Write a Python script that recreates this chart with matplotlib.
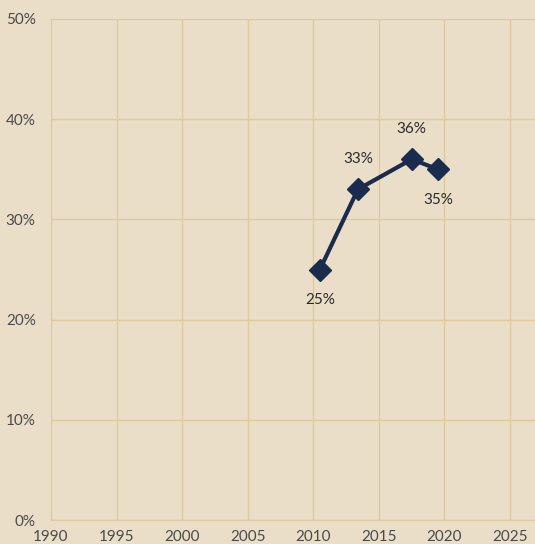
import matplotlib
matplotlib.use("Agg")
import matplotlib.pyplot as plt
from matplotlib.ticker import FuncFormatter

years = [2010.5, 2013.4, 2017.5, 2019.5]
share = [25, 33, 36, 35]
labels = ["25%", "33%", "36%", "35%"]
label_offsets = [(0, -22), (0, 22), (0, 22), (0, -22)]

xticks = [1990, 1995, 2000, 2005, 2010, 2015, 2020, 2025]
yticks = [0, 10, 20, 30, 40, 50]

bg = "#ebdec8"
grid_c = "#dccb9c"
navy = "#1b2b4d"

plt.rcParams['font.family'] = ['Lato', 'DejaVu Sans']

fig = plt.figure(figsize=(5.35, 5.44), dpi=100, facecolor=bg)
ax = fig.add_axes([51 / 535, 24 / 544, 1 - 51 / 535, 501 / 544], facecolor=bg)

ax.plot(years, share, color=navy, lw=3, marker="D", ms=11, zorder=3)
for x, y, t, off in zip(years, share, labels, label_offsets):
    ax.annotate(t, (x, y), xytext=off, textcoords="offset points",
                ha="center", va="center", fontsize=11, color="#2b2b2b")

ax.set_xlim(1990, 2026.9)
ax.set_ylim(0, 50)
ax.set_xticks(xticks)
ax.set_yticks(yticks)
ax.yaxis.set_major_formatter(FuncFormatter(lambda v, p: f"{int(v)}%"))
ax.grid(True, color=grid_c, lw=1)
ax.set_axisbelow(True)
for s in ax.spines.values():
    s.set_visible(False)
ax.spines["bottom"].set_visible(True)
ax.spines["bottom"].set_color(grid_c)
ax.spines["left"].set_visible(True)
ax.spines["left"].set_color(grid_c)
ax.tick_params(length=0, labelsize=11, colors="#4a4a4a")
ax.tick_params(axis="x", pad=7)
ax.tick_params(axis="y", pad=11)

fig.savefig("out.png", dpi=100, facecolor=bg)
